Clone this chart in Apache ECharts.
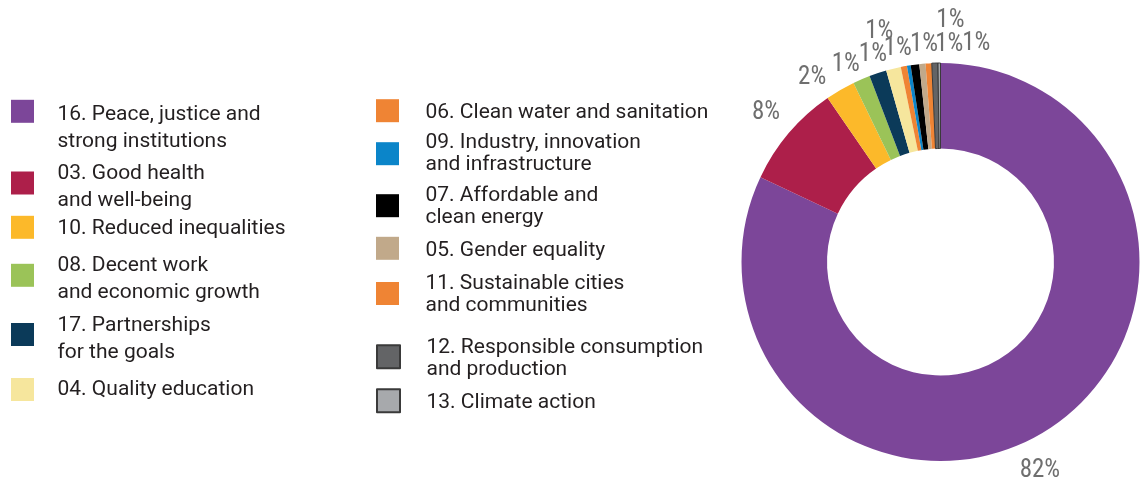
<!DOCTYPE html>
<html>
<head>
<meta charset="utf-8">
<title>Projects by Sustainable Development Goal</title>
<script src="https://cdn.jsdelivr.net/npm/echarts@6/dist/echarts.min.js"></script>
<style>
  html, body { margin: 0; padding: 0; background: #ffffff; }
  #chart { width: 1140px; height: 484px; }
</style>
</head>
<body>
<div id="chart"></div>
<script>
// Goal names, in slice order (clockwise from 12 o'clock)
const goals = [
  "16. Peace, justice and\nstrong institutions",
  "03. Good health\nand well-being",
  "10. Reduced inequalities",
  "08. Decent work\nand economic growth",
  "17. Partnerships\nfor the goals",
  "04. Quality education",
  "06. Clean water and sanitation",
  "09. Industry, innovation\nand infrastructure",
  "07. Affordable and\nclean energy",
  "05. Gender equality",
  "11. Sustainable cities\nand communities",
  "12. Responsible consumption\nand production",
  "13. Climate action"
];

// Share of total, in percent
const shares = [82.0, 8.4, 2.4, 1.4, 1.4, 1.2, 0.5, 0.3, 0.7, 0.5, 0.5, 0.5, 0.2];

const goalColors = [
  "#7c4699", "#ad1f4a", "#fcb92a", "#9bc358", "#0b3a59", "#f6e69d", "#ef8434",
  "#0b85c9", "#000000", "#c1a98a", "#ef8434", "#636466", "#a7a9ac"
];

// Goals whose swatch and slice carry a dark outline
const outlined = [false, false, false, false, false, false, false, false, false, false, false, true, true];

// ---- layout ----
const CX = 940.5, CY = 262, R_IN = 113.5, R_OUT = 199;
const LABEL_R = 221;
// small offsets that spread the crowded value labels at the top
const labelNudge = [
  [-19, 22], [-6, -6], [-17, 7], [-7, 6], [2, 3], [-9, -16], [-2, 4],
  [0, 0], [12, 2], [30, -21], [22, 3], [42, 3], [0, 0]
];

// legend rows: swatch centre y and first text line centre y
const legendColumns = [
  { left: 11, lineHeight: 27, padLeft: 18.5, items: [0, 1, 2, 3, 4, 5],
    swatchY: [111.3, 183, 227.3, 275.3, 334.5, 389.5],
    textY:   [113.2, 171.8, 227.2, 264.2, 324.2, 388.5] },
  { left: 376, lineHeight: 22, padLeft: 21.5, items: [6, 7, 8, 9, 10, 11, 12],
    swatchY: [110.7, 153.5, 205.7, 248.3, 293.5, 356.7, 400.8],
    textY:   [111.3, 141.3, 194.3, 249.3, 282, 346.3, 401.3] }
];
const SWATCH = 23;
const TEXT_DROP = 1.5;   // canvas "middle" sits a little above the cap centre

const total = shares.reduce((a, b) => a + b, 0);
let acc = 0;
const midAngles = shares.map(v => {
  const m = (acc + v / 2) / total * Math.PI * 2;
  acc += v;
  return m;
});

const pieData = goals.map((name, i) => ({
  name: name,
  value: shares[i],
  itemStyle: outlined[i]
    ? { color: goalColors[i], borderColor: "#3a3a3a", borderWidth: 1 }
    : { color: goalColors[i], borderWidth: 0 }
}));

const textBase = { fontFamily: "Roboto", fontSize: 21, color: "#231f20" };

// one legend per goal so every swatch/text pair sits on its own row
const legends = [];
legendColumns.forEach(col => {
  col.items.forEach((idx, k) => {
    const lines = goals[idx].split("\n");
    const n = lines.length;
    const s = col.swatchY[k];
    // an empty spacer line above (or below) moves the text block off the swatch centre
    const diff = 2 * (col.textY[k] + TEXT_DROP - s) + (n - 1) * col.lineHeight;
    const gapTop = Math.max(diff, 0), gapBottom = Math.max(-diff, 0);
    const h = n * col.lineHeight + gapTop + gapBottom;
    legends.push({
      data: [goals[idx]],
      left: col.left,
      top: Math.min(s - SWATCH / 2, s - h / 2),
      orient: "vertical",
      padding: 0,
      icon: "rect",
      itemWidth: SWATCH,
      itemHeight: SWATCH,
      selectedMode: false,
      formatter: () => {
        let out = lines.map(l => "{t|" + l + "}").join("\n");
        if (gapTop > 0) out = "{gt| }\n" + out;
        if (gapBottom > 0) out = out + "\n{gb| }";
        return out;
      },
      textStyle: Object.assign({}, textBase, {
        padding: [0, 0, 0, col.padLeft],
        rich: {
          t: Object.assign({}, textBase, { lineHeight: col.lineHeight }),
          gt: { fontSize: 1, lineHeight: gapTop, height: gapTop },
          gb: { fontSize: 1, lineHeight: gapBottom, height: gapBottom }
        }
      })
    });
  });
});

const chart = echarts.init(document.getElementById("chart"), null, { renderer: "canvas" });
chart.setOption({
  animation: false,
  backgroundColor: "#ffffff",
  legend: legends,
  series: [{
    type: "pie",
    center: [CX, CY],
    radius: [R_IN, R_OUT],
    startAngle: 90,
    clockwise: true,
    avoidLabelOverlap: false,
    silent: true,
    data: pieData,
    label: {
      show: true,
      position: "outside",
      fontFamily: "'Liberation Sans Narrow', 'Roboto Condensed', Roboto",
      fontSize: 25,
      color: "#6f6f6f",
      formatter: p => {
        const r = Math.round(p.value);
        return r >= 1 ? r + "%" : "";
      }
    },
    labelLine: { show: false },
    labelLayout: p => {
      const a = midAngles[p.dataIndex];
      const nd = labelNudge[p.dataIndex];
      return {
        x: CX + LABEL_R * Math.sin(a) + nd[0],
        y: CY - LABEL_R * Math.cos(a) + nd[1],
        align: "center",
        verticalAlign: "middle"
      };
    }
  }]
});
</script>
</body>
</html>
